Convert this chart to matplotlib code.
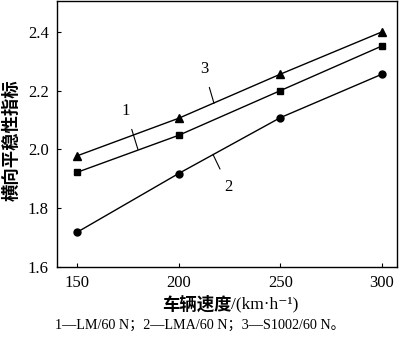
import matplotlib
matplotlib.use('Agg')
import matplotlib.pyplot as plt

plt.rcParams['font.family'] = ['Liberation Serif', 'DejaVu Serif', 'Noto Sans CJK SC']

speed = [150, 200, 250, 300]
lm = [1.922, 2.048, 2.200, 2.352]       # 1 - squares
lma = [1.718, 1.918, 2.108, 2.256]      # 2 - circles
s1002 = [1.978, 2.106, 2.256, 2.400]    # 3 - triangles

xticks = [150, 200, 250, 300]
yticks = [1.6, 1.8, 2.0, 2.2, 2.4]

fig = plt.figure(figsize=(4.0, 3.37), dpi=100)
ax = fig.add_axes([0.1425, 0.2077, 0.85, 0.7893])

ax.plot(speed, lm, color='black', lw=1.0, marker='s', ms=4.5)
ax.plot(speed, lma, color='black', lw=1.0, marker='o', ms=5)
ax.plot(speed, s1002, color='black', lw=1.0, marker='^', ms=5.5)

ax.set_xlim(140.2, 307.4)
ax.set_ylim(1.6, 2.505)
ax.set_xticks(xticks)
ax.set_yticks(yticks)
ax.set_yticklabels([f'{v:.1f}' for v in yticks])
ax.tick_params(direction='in', length=3, width=0.8, labelsize=12, pad=6,
               top=False, right=False)
for sp in ax.spines.values():
    sp.set_linewidth(1.0)

# curve labels with leader lines
ax.annotate('1', xy=(180.0, 2.000), xytext=(174.1, 2.132), fontsize=12,
            ha='center', va='center',
            arrowprops=dict(arrowstyle='-', lw=0.8, color='black', shrinkA=6, shrinkB=0))
ax.annotate('3', xy=(217.4, 2.157), xytext=(212.4, 2.275), fontsize=12,
            ha='center', va='center',
            arrowprops=dict(arrowstyle='-', lw=0.8, color='black', shrinkA=6, shrinkB=0))
ax.annotate('2', xy=(216.9, 1.983), xytext=(224.7, 1.871), fontsize=12,
            ha='center', va='center',
            arrowprops=dict(arrowstyle='-', lw=0.8, color='black', shrinkA=6, shrinkB=0))

fig.text(0.03, 0.585, '横向平稳性指标', rotation=90, ha='center', va='center',
         fontsize=12.5, fontweight='bold')
fig.text(0.578, 0.095, '车辆速度', ha='right', va='center',
         fontsize=12.5, fontweight='bold')
fig.text(0.578, 0.097, '/(km·h⁻¹)', ha='left', va='center', fontsize=12.5)
fig.text(0.5, 0.035, '1—LM/60 N；2—LMA/60 N；3—S1002/60 N。', ha='center',
         va='center', fontsize=10.2)

fig.savefig('out.png', dpi=100)
